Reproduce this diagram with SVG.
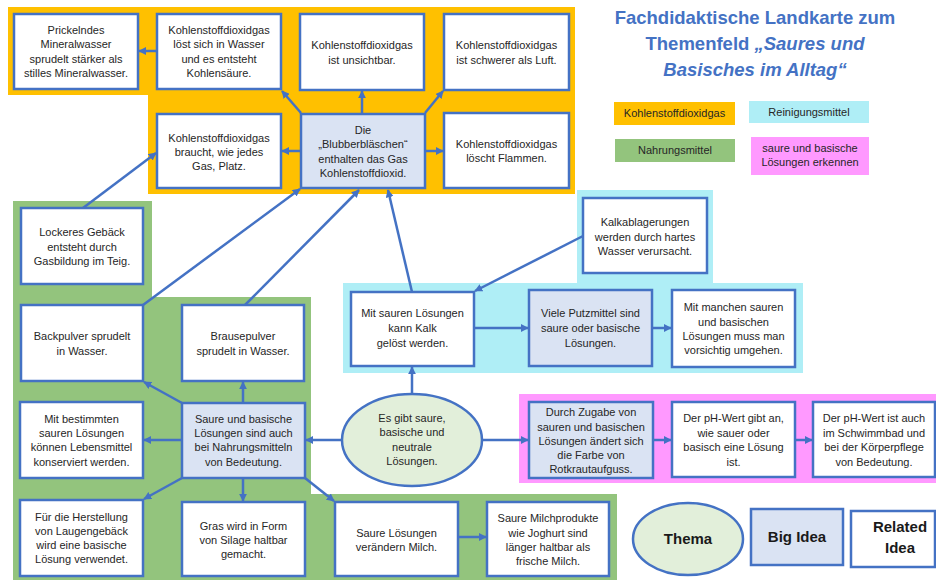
<svg xmlns="http://www.w3.org/2000/svg" width="936" height="580" viewBox="0 0 936 580">
<style>
.t{font-family:"Liberation Sans",Arial,sans-serif;font-size:11px;fill:#262626;text-anchor:middle}
.ri{fill:#fff;stroke:#4472C4;stroke-width:2.5}
.bi{fill:#DAE3F3;stroke:#4472C4;stroke-width:2.5}
.th{fill:#E2EFDA;stroke:#4472C4;stroke-width:2.5}
.c{stroke:#4472C4;stroke-width:2.5;fill:none;marker-end:url(#ah)}
.title{font-family:"Liberation Sans",Arial,sans-serif;font-size:18.5px;font-weight:bold;fill:#4472C4;text-anchor:middle}
.lg{font-family:"Liberation Sans",Arial,sans-serif;font-size:15px;font-weight:bold;fill:#1a1a1a;text-anchor:middle}
</style>
<defs>
<marker id="ah" viewBox="0 0 10 10" refX="9" refY="5" markerWidth="8" markerHeight="8" markerUnits="userSpaceOnUse" orient="auto"><path d="M0,0 L10,5 L0,10 z" fill="#4472C4"/></marker>
</defs>
<rect width="936" height="580" fill="#fff"/>
<g id="regions">
<path d="M8,7 H575 V194 H148 V95 H8 Z" fill="#FFC000"/>
<path d="M13,201 H152 V297 H311 V494 H617 V580 H13 Z" fill="#93C47D"/>
<path d="M577,190 H713 V283 H803 V373 H343 V283 H577 Z" fill="#AFEEF6"/>
<rect x="519" y="394" width="417" height="89" fill="#FF99FF"/>
</g>
<g id="title">
<text class="title" x="755" y="24">Fachdidaktische Landkarte zum</text>
<text class="title" x="755" y="50">Themenfeld <tspan font-style="italic">„Saures und</tspan></text>
<text class="title" x="755" y="76" font-style="italic">Basisches im Alltag“</text>
</g>
<g id="legend">
<rect x="614" y="102" width="121" height="23" fill="#FFC000"/>
<text class="t" x="674.5" y="117">Kohlenstoffdioxidgas</text>
<rect x="749" y="101" width="120" height="22" fill="#AFEEF6"/>
<text class="t" x="809" y="116">Reinigungsmittel</text>
<rect x="615" y="139" width="120" height="23" fill="#93C47D"/>
<text class="t" x="675" y="154">Nahrungsmittel</text>
<rect x="751" y="137" width="118" height="38" fill="#FF99FF"/>
<text class="t" x="810" y="152">saure und basische</text>
<text class="t" x="810" y="166">Lösungen erkennen</text>
<ellipse class="th" cx="688" cy="539" rx="55" ry="36"/>
<text class="lg" x="688" y="544">Thema</text>
<rect class="bi" x="751" y="509" width="92" height="56"/>
<text class="lg" x="797" y="542">Big Idea</text>
<rect class="ri" x="851" y="511" width="84" height="56"/>
<text class="lg" x="900" y="532">Related</text>
<text class="lg" x="900" y="553">Idea</text>
</g>
<g id="n-prickelndes"><rect class="ri" x="14" y="14" width="124" height="75"/>
<text class="t" x="76" y="34">Prickelndes</text><text class="t" x="76" y="48.3">Mineralwasser</text><text class="t" x="76" y="62.6">sprudelt stärker als</text><text class="t" x="76" y="76.9">stilles Mineralwasser.</text></g>
<g id="n-loest"><rect class="ri" x="157" y="14" width="124" height="75"/>
<text class="t" x="219" y="34">Kohlenstoffdioxidgas</text><text class="t" x="219" y="48.3">löst sich in Wasser</text><text class="t" x="219" y="62.6">und es entsteht</text><text class="t" x="219" y="76.9">Kohlensäure.</text></g>
<g id="n-unsichtbar"><rect class="ri" x="300" y="14" width="124" height="76"/>
<text class="t" x="362" y="49">Kohlenstoffdioxidgas</text><text class="t" x="362" y="64">ist unsichtbar.</text></g>
<g id="n-schwerer"><rect class="ri" x="444" y="14" width="125" height="76"/>
<text class="t" x="506.5" y="49">Kohlenstoffdioxidgas</text><text class="t" x="506.5" y="64">ist schwerer als Luft.</text></g>
<g id="n-braucht"><rect class="ri" x="157" y="114" width="124" height="74"/>
<text class="t" x="219" y="142">Kohlenstoffdioxidgas</text><text class="t" x="219" y="156">braucht, wie jedes</text><text class="t" x="219" y="170">Gas, Platz.</text></g>
<g id="n-blubber"><rect class="bi" x="301" y="114" width="124" height="74"/>
<text class="t" x="363" y="133.5">Die</text><text class="t" x="363" y="148">„Blubberbläschen“</text><text class="t" x="363" y="162.5">enthalten das Gas</text><text class="t" x="363" y="177">Kohlenstoffdioxid.</text></g>
<g id="n-loescht"><rect class="ri" x="444" y="113" width="125" height="75"/>
<text class="t" x="506.5" y="148">Kohlenstoffdioxidgas</text><text class="t" x="506.5" y="162">löscht Flammen.</text></g>
<g id="n-lockeres"><rect class="ri" x="21" y="208" width="122" height="76"/>
<text class="t" x="82" y="236">Lockeres Gebäck</text><text class="t" x="82" y="251">entsteht durch</text><text class="t" x="82" y="265">Gasbildung im Teig.</text></g>
<g id="n-backpulver"><rect class="ri" x="21" y="305" width="122" height="76"/>
<text class="t" x="82" y="340">Backpulver sprudelt</text><text class="t" x="82" y="355">in Wasser.</text></g>
<g id="n-brausepulver"><rect class="ri" x="182" y="305" width="122" height="76"/>
<text class="t" x="243" y="340">Brausepulver</text><text class="t" x="243" y="355">sprudelt in Wasser.</text></g>
<g id="n-bestimmten"><rect class="ri" x="20" y="402" width="123" height="76"/>
<text class="t" x="81.5" y="423">Mit bestimmten</text><text class="t" x="81.5" y="437">sauren Lösungen</text><text class="t" x="81.5" y="451">können Lebensmittel</text><text class="t" x="81.5" y="466">konserviert werden.</text></g>
<g id="n-nahrung"><rect class="bi" x="182" y="403" width="123" height="75"/>
<text class="t" x="243.5" y="423">Saure und basische</text><text class="t" x="243.5" y="437">Lösungen sind auch</text><text class="t" x="243.5" y="451">bei Nahrungsmitteln</text><text class="t" x="243.5" y="466">von Bedeutung.</text></g>
<g id="n-laugen"><rect class="ri" x="20" y="500" width="123" height="76"/>
<text class="t" x="81.5" y="521">Für die Herstellung</text><text class="t" x="81.5" y="535">von Laugengebäck</text><text class="t" x="81.5" y="549">wird eine basische</text><text class="t" x="81.5" y="563">Lösung verwendet.</text></g>
<g id="n-gras"><rect class="ri" x="182" y="502" width="123" height="74"/>
<text class="t" x="243.5" y="530">Gras wird in Form</text><text class="t" x="243.5" y="544">von Silage haltbar</text><text class="t" x="243.5" y="558">gemacht.</text></g>
<g id="n-milch"><rect class="ri" x="335" y="502" width="123" height="74"/>
<text class="t" x="396.5" y="537">Saure Lösungen</text><text class="t" x="396.5" y="551">verändern Milch.</text></g>
<g id="n-milchprodukte"><rect class="ri" x="487" y="502" width="122" height="74"/>
<text class="t" x="548" y="522">Saure Milchprodukte</text><text class="t" x="548" y="537">wie Joghurt sind</text><text class="t" x="548" y="551">länger haltbar als</text><text class="t" x="548" y="565">frische Milch.</text></g>
<g id="n-kalkablagerungen"><rect class="ri" x="583" y="198" width="124" height="75"/>
<text class="t" x="645" y="226">Kalkablagerungen</text><text class="t" x="645" y="241">werden durch hartes</text><text class="t" x="645" y="255">Wasser verursacht.</text></g>
<g id="n-kalk"><rect class="ri" x="351" y="292" width="123" height="74"/>
<text class="t" x="412.5" y="317">Mit sauren Lösungen</text><text class="t" x="412.5" y="332">kann Kalk</text><text class="t" x="412.5" y="347">gelöst werden.</text></g>
<g id="n-putzmittel"><rect class="bi" x="529" y="290" width="123" height="76"/>
<text class="t" x="590.5" y="317">Viele Putzmittel sind</text><text class="t" x="590.5" y="332">saure oder basische</text><text class="t" x="590.5" y="347">Lösungen.</text></g>
<g id="n-vorsichtig"><rect class="ri" x="672" y="290" width="123" height="77"/>
<text class="t" x="733.5" y="311">Mit manchen sauren</text><text class="t" x="733.5" y="326">und basischen</text><text class="t" x="733.5" y="340">Lösungen muss man</text><text class="t" x="733.5" y="354">vorsichtig umgehen.</text></g>
<g id="n-rotkraut"><rect class="bi" x="529" y="402" width="124" height="76"/>
<text class="t" x="591" y="416">Durch Zugabe von</text><text class="t" x="591" y="431">sauren und basischen</text><text class="t" x="591" y="445">Lösungen ändert sich</text><text class="t" x="591" y="459">die Farbe von</text><text class="t" x="591" y="473">Rotkrautaufguss.</text></g>
<g id="n-ph"><rect class="ri" x="672" y="402" width="123" height="75"/>
<text class="t" x="733.5" y="422">Der pH-Wert gibt an,</text><text class="t" x="733.5" y="437">wie sauer oder</text><text class="t" x="733.5" y="451">basisch eine Lösung</text><text class="t" x="733.5" y="466">ist.</text></g>
<g id="n-ph2"><rect class="ri" x="813" y="402" width="122" height="75"/>
<text class="t" x="874" y="422">Der pH-Wert ist auch</text><text class="t" x="874" y="437">im Schwimmbad und</text><text class="t" x="874" y="451">bei der Körperpflege</text><text class="t" x="874" y="466">von Bedeutung.</text></g>
<g id="n-thema"><ellipse class="th" cx="412" cy="440" rx="70" ry="46"/>
<text class="t" x="412" y="422">Es gibt saure,</text><text class="t" x="412" y="436">basische und</text><text class="t" x="412" y="451">neutrale</text><text class="t" x="412" y="465">Lösungen.</text></g>
<g id="connectors">
<line class="c" x1="157" y1="51" x2="139" y2="51"/>
<line class="c" x1="301" y1="113" x2="282" y2="91"/>
<line class="c" x1="362" y1="114" x2="362" y2="91"/>
<line class="c" x1="425" y1="113" x2="443" y2="91"/>
<line class="c" x1="301" y1="151" x2="282" y2="151"/>
<line class="c" x1="425" y1="151" x2="443" y2="151"/>
<line class="c" x1="83" y1="208" x2="156" y2="153"/>
<line class="c" x1="143" y1="305" x2="300" y2="189"/>
<line class="c" x1="245" y1="305" x2="359" y2="190"/>
<line class="c" x1="412" y1="292" x2="388" y2="190"/>
<line class="c" x1="583" y1="236" x2="475" y2="291"/>
<line class="c" x1="474" y1="328" x2="528" y2="328"/>
<line class="c" x1="652" y1="328" x2="671" y2="328"/>
<line class="c" x1="412" y1="394" x2="412" y2="367"/>
<line class="c" x1="482" y1="440" x2="528" y2="440"/>
<line class="c" x1="653" y1="440" x2="671" y2="440"/>
<line class="c" x1="795" y1="440" x2="812" y2="440"/>
<line class="c" x1="342" y1="440" x2="306" y2="440"/>
<line class="c" x1="182" y1="403" x2="144" y2="382"/>
<line class="c" x1="243" y1="403" x2="243" y2="382"/>
<line class="c" x1="182" y1="440" x2="144" y2="440"/>
<line class="c" x1="182" y1="478" x2="144" y2="499"/>
<line class="c" x1="243" y1="478" x2="243" y2="501"/>
<line class="c" x1="305" y1="478" x2="334" y2="501"/>
<line class="c" x1="458" y1="537" x2="486" y2="537"/>
</g>
</svg>
